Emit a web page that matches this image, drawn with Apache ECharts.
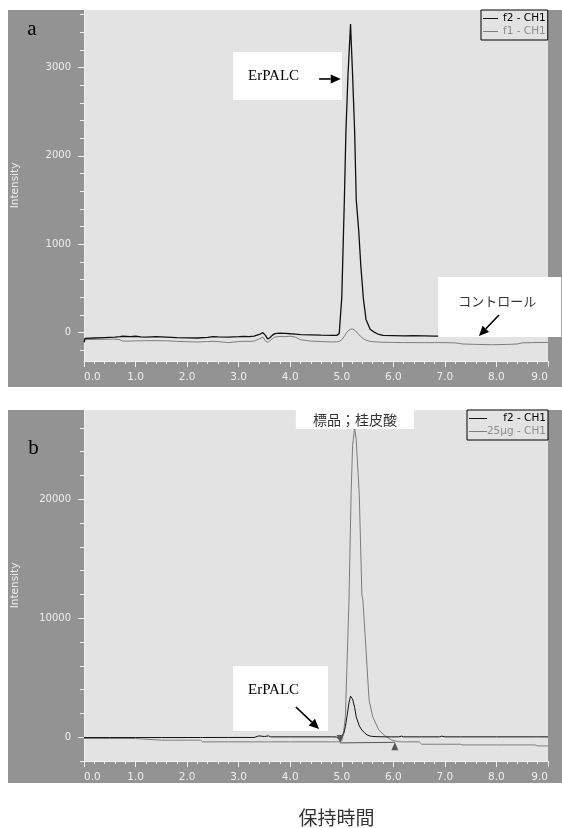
<!DOCTYPE html>
<html>
<head>
<meta charset="utf-8">
<script src="https://cdn.jsdelivr.net/npm/echarts@6/dist/echarts.min.js"></script>
<style>
  html, body { margin: 0; padding: 0; background: #fff; }
  #chart { width: 562px; height: 828px; }
</style>
</head>
<body>
<div id="chart"></div>
<script>
// panel a: retention time (min), f2 and f1 intensity
const timeA = [
  0.0, 0.02, 0.2, 0.4, 0.6, 0.7, 0.75, 0.9, 1.0, 1.1,
  1.2, 1.4, 1.6, 1.8, 2.0, 2.2, 2.4, 2.5, 2.6, 2.8,
  3.0, 3.1, 3.2, 3.3, 3.4, 3.47, 3.52, 3.56, 3.6, 3.65,
  3.7, 3.8, 3.9, 4.0, 4.1, 4.2, 4.4, 4.6, 4.8, 4.9,
  4.95, 5.0, 5.05, 5.08, 5.12, 5.17, 5.21, 5.25, 5.28, 5.33,
  5.37, 5.42, 5.47, 5.55, 5.62, 5.7, 5.8, 6.0, 6.2, 6.4,
  6.6, 6.8, 7.0, 7.2, 7.35, 7.6, 7.9, 8.2, 8.4, 8.5,
  8.7, 9.0
];
const f2A = [
  -110, -65, -60, -55, -50, -45, -40, -45, -40, -48,
  -50, -45, -50, -55, -58, -60, -52, -45, -48, -50,
  -45, -42, -45, -38, -20, 0, -30, -70, -60, -30,
  -10, -5, -8, -12, -15, -22, -25, -28, -30, -30,
  -10, 400, 1500, 2270, 2910, 3490, 2910, 2270, 1510, 1140,
  750, 380, 150, 40, 10, -15, -30, -32, -35, -33,
  -35, -38, -38, -40, -40, -42, -40, -40, -38, -40,
  -40, -40
];
const f1A = [
  -78, -78, -76, -74, -72, -80, -95, -95, -92, -92,
  -90, -90, -92, -98, -102, -105, -100, -98, -100, -112,
  -100, -98, -98, -95, -70, -50, -95, -108, -95, -70,
  -50, -42, -45, -40, -50, -80, -95, -100, -105, -103,
  -100, -80, -40, -10, 20, 40, 42, 30, 15, -20,
  -45, -70, -85, -98, -102, -105, -108, -110, -112, -112,
  -113, -112, -112, -115, -128, -132, -136, -133, -128, -115,
  -112, -110
];

// panel b: f2 and 25µg standard
const timeB = [
  0.0, 0.5, 1.0, 1.03, 1.5, 2.0, 2.26, 2.3, 2.8, 3.3,
  3.39, 3.5, 3.58, 3.62, 4.0, 4.5, 4.8, 4.9, 4.95,
  5.0, 5.04, 5.07, 5.1, 5.14, 5.17, 5.18, 5.21, 5.25, 5.28,
  5.34, 5.39, 5.41, 5.45, 5.49, 5.53, 5.6, 5.72, 5.85, 5.97,
  6.1, 6.16, 6.2, 6.5, 6.55, 6.9, 6.94, 7.0, 7.3, 7.35,
  8.0, 8.75, 8.8, 9.0
];
const f2B = [
  -30, -30, -30, -30, -30, -25, -25, -25, -20, -20,
  110, 60, 110, 30, 30, 30, 30, 20, -200,
  100, 330, 900, 1710, 2900, 3450, 3530, 3200, 2500, 1710,
  950, 600, 500, 330, 200, 120, 60, 40, 30, 30,
  30, 90, 30, 30, 30, 30, 90, 30, 30, 30,
  30, 30, 30, 30
];
const stdB = [
  -110, -110, -110, -250, -250, -250, -250, -390, -390, -390,
  -390, -390, -390, -390, -390, -390, -390, -390, -390,
  -300, 600, 1710, 5910, 11510, 18000, 20340, 24500, 26000, 25000,
  20340, 11930, 11510, 8740, 5910, 3110, 1710, 590, 84, -250,
  -370, -390, -390, -390, -590, -590, -590, -590, -590, -650,
  -650, -650, -730, -730
];
// peak start / end markers on the standard trace
const peakMarksB = [[4.97, -480], [6.03, -430]];

const yLabelsA = [0, 1000, 2000, 3000];
const yMinorA = [-200, 0, 200, 400, 600, 800, 1000, 1200, 1400, 1600, 1800, 2000,
  2200, 2400, 2600, 2800, 3000, 3200, 3400, 3600];
const yLabelsB = [0, 10000, 20000];
const yMinorB = [-2000, 0, 2000, 4000, 6000, 8000, 10000, 12000, 14000, 16000,
  18000, 20000, 22000, 24000, 26000];

const OUTER = "#939393";
const PLOT = "#e3e3e3";
const AXIS = "#eeeeee";
const FONT = '"DejaVu Sans", sans-serif';
const SERIF = '"Liberation Serif", "DejaVu Serif", serif';
const CJK = '"Noto Sans CJK JP", sans-serif';

const chart = echarts.init(document.getElementById("chart"));

const xAxisFor = i => ({
  type: "value", gridIndex: i, min: 0, max: 9, interval: 1,
  axisLine: { onZero: false, lineStyle: { color: AXIS, width: 1 } },
  axisTick: { length: 6, lineStyle: { color: AXIS } },
  minorTick: { show: true, splitNumber: 5, length: 3, lineStyle: { color: AXIS } },
  splitLine: { show: false }, minorSplitLine: { show: false },
  axisLabel: { color: AXIS, fontSize: 10.5, fontFamily: FONT, margin: 11,
    formatter: v => v.toFixed(1), alignMinLabel: "left", alignMaxLabel: "right" },
});
const yMain = (i, min, max, labels) => ({
  type: "value", gridIndex: i, position: "left", min, max,
  name: "Intensity", nameLocation: "middle", nameGap: 63,
  nameTextStyle: { color: AXIS, fontSize: 10.5, fontFamily: FONT },
  axisLine: { show: true, onZero: false, lineStyle: { color: AXIS } },
  axisTick: { show: true, length: 6, customValues: labels, lineStyle: { color: AXIS } },
  axisLabel: { customValues: labels, color: AXIS, fontSize: 10, fontFamily: FONT, margin: 13,
    formatter: v => String(v) },
  splitLine: { show: false },
});
const yMinor = (i, min, max, ticks) => ({
  type: "value", gridIndex: i, position: "left", min, max,
  axisLine: { show: false }, axisLabel: { show: false },
  axisTick: { show: true, length: 4, customValues: ticks, lineStyle: { color: AXIS } },
  splitLine: { show: false },
});
const lineSeries = (name, xi, yi, t, v, color, width, z) => ({
  name, type: "line", xAxisIndex: xi, yAxisIndex: yi, z,
  data: t.map((x, k) => [x, v[k]]),
  symbol: "none", showSymbol: false,
  lineStyle: { color, width }, itemStyle: { color },
});

const stdSeries = lineSeries("25µg - CH1", 1, 2, timeB, stdB, "#7d7d7d", 1, 2);
stdSeries.markPoint = {
  symbol: "triangle", symbolSize: [7, 8], silent: true,
  itemStyle: { color: "#555" }, label: { show: false },
  data: [
    { coord: peakMarksB[0], symbolRotate: 180, symbolOffset: [0, -4] },
    { coord: peakMarksB[1], symbolOffset: [0, 4] },
  ],
};
stdSeries.markLine = {
  symbol: "none", silent: true, label: { show: false },
  lineStyle: { color: "#555", width: 1, type: "solid" },
  data: [[{ coord: peakMarksB[0] }, { coord: peakMarksB[1] }]],
};

const legendBase = {
  orient: "vertical", itemGap: 2, icon: "rect", itemWidth: 18, itemHeight: 1,
  padding: [3, 2, 3, 2], borderColor: "#000", borderWidth: 1,
  selectedMode: false, textStyle: { fontSize: 10.5, fontFamily: FONT },
};

chart.setOption({
  animation: false,
  backgroundColor: "#fff",
  grid: [
    { left: 84, top: 10, width: 464, height: 351, show: true, backgroundColor: PLOT, borderWidth: 0 },
    { left: 84, top: 410, width: 464, height: 351, show: true, backgroundColor: PLOT, borderWidth: 0 },
  ],
  xAxis: [xAxisFor(0), xAxisFor(1)],
  yAxis: [
    yMain(0, -320, 3650, yLabelsA), yMinor(0, -320, 3650, yMinorA),
    yMain(1, -2000, 27500, yLabelsB), yMinor(1, -2000, 27500, yMinorB),
  ],
  legend: [
    Object.assign({}, legendBase, { left: 481, top: 10, itemWidth: 15,
      data: [{ name: "f2 - CH1", textStyle: { color: "#000" } }, { name: "f1 - CH1", textStyle: { color: "#8c8c8c" } }] }),
    Object.assign({}, legendBase, { left: 467, top: 410,
      formatter: n => `{t|${n}}`,
      textStyle: { fontSize: 10.5, fontFamily: FONT, rich: { t: { width: 54, align: "right" } } },
      data: [{ name: "f2 - CH1", textStyle: { color: "#000" } }, { name: "25µg - CH1", textStyle: { color: "#8c8c8c" } }] }),
  ],
  series: [
    lineSeries("f2 - CH1", 0, 0, timeA, f2A, "#111", 1.3, 3),
    lineSeries("f1 - CH1", 0, 0, timeA, f1A, "#7d7d7d", 1, 2),
    lineSeries("f2 - CH1", 1, 2, timeB, f2B, "#111", 1, 3),
    stdSeries,
  ],
});

// annotation boxes anchored at data coords (top-left), sizes in px
const notes = [
  { s: 0, at: [2.89, 3175], w: 109, h: 48, text: "ErPALC", family: SERIF, size: 15, color: "#000",
    dx: 15, dy: 24, align: "left", arrow: [[4.56, 2870], [4.98, 2870]] },
  { s: 0, at: [6.87, 630], w: 123, h: 60, text: "コントロール", family: CJK, size: 13, color: "#333",
    dx: 59, dy: 24, align: "center", arrow: [[8.05, 200], [7.66, -37]] },
  { s: 2, at: [2.89, 5984], w: 95, h: 65, text: "ErPALC", family: SERIF, size: 15, color: "#000",
    dx: 15, dy: 24, align: "left", arrow: [[4.11, 2538], [4.56, 689]] },
  { s: 2, at: [4.11, 27500], w: 118, h: 19, text: "標品；桂皮酸", family: CJK, size: 14, color: "#333",
    dx: 59, dy: 10, align: "center" },
];

function arrow(p0, p1) {
  const dx = p1[0] - p0[0], dy = p1[1] - p0[1];
  const L = Math.hypot(dx, dy), ux = dx / L, uy = dy / L;
  const hl = 10, hw = 4.5;
  const bx = p1[0] - ux * hl, by = p1[1] - uy * hl;
  return [
    { type: "line", z: 12, silent: true, shape: { x1: p0[0], y1: p0[1], x2: bx, y2: by }, style: { stroke: "#000", lineWidth: 1.6 } },
    { type: "polygon", z: 12, silent: true, shape: { points: [[p1[0], p1[1]], [bx - uy * hw, by + ux * hw], [bx + uy * hw, by - ux * hw]] }, style: { fill: "#000" } },
  ];
}
function txt(text, x, y, family, size, color, align) {
  return { type: "text", z: 11, silent: true, x, y,
    style: { text, fill: color, fontFamily: family, fontSize: size,
      align, textAlign: align, verticalAlign: "middle", textVerticalAlign: "middle" } };
}

function annotate() {
  const g = [
    { type: "rect", z: -10, silent: true, shape: { x: 8, y: 10, width: 554, height: 377 }, style: { fill: OUTER } },
    { type: "rect", z: -10, silent: true, shape: { x: 8, y: 410, width: 554, height: 373 }, style: { fill: OUTER } },
    txt("a", 32, 29, SERIF, 21, "#000", "center"),
    txt("b", 33.5, 448, SERIF, 21, "#000", "center"),
    txt("保持時間", 336.5, 818, CJK, 19, "#333", "center"),
  ];
  notes.forEach(n => {
    const p = chart.convertToPixel({ seriesIndex: n.s }, n.at);
    g.push({ type: "rect", z: 10, silent: true, shape: { x: p[0], y: p[1], width: n.w, height: n.h }, style: { fill: "#fff" } });
    g.push(txt(n.text, p[0] + n.dx, p[1] + n.dy, n.family, n.size, n.color, n.align));
    if (n.arrow) {
      const a0 = chart.convertToPixel({ seriesIndex: n.s }, n.arrow[0]);
      const a1 = chart.convertToPixel({ seriesIndex: n.s }, n.arrow[1]);
      arrow(a0, a1).forEach(e => g.push(e));
    }
  });
  chart.setOption({ graphic: g });
}
annotate();
</script>
</body>
</html>
